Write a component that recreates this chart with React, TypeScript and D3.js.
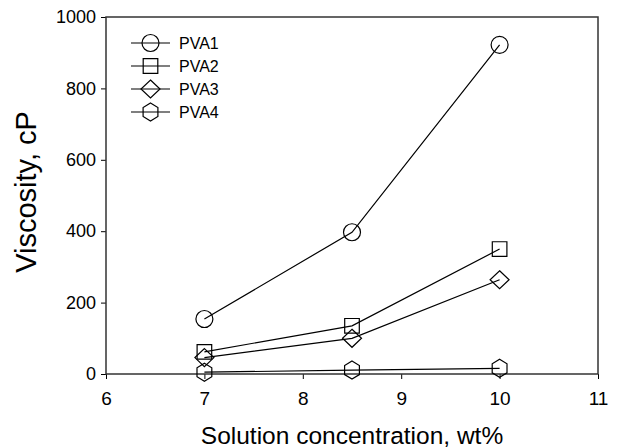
import { useEffect, useRef } from 'react'
import * as d3 from 'd3'

const concentrations = [7, 8.5, 10]
const seriesNames = ['PVA1', 'PVA2', 'PVA3', 'PVA4']
const pva1 = [154, 397, 922]
const pva2 = [62, 135, 350]
const pva3 = [46, 100, 264]
const pva4 = [5, 11, 16]
const xTicks = [6, 7, 8, 9, 10, 11]
const yTicks = [0, 200, 400, 600, 800, 1000]

const markerShapes = ['circle', 'square', 'diamond', 'hexagon']

function markerPath(shape: string, cx: number, cy: number) {
  if (shape === 'circle') {
    const r = 8.5
    return `M${cx - r},${cy}a${r},${r} 0 1,0 ${2 * r},0a${r},${r} 0 1,0 ${-2 * r},0Z`
  }
  if (shape === 'square') {
    const h = 7.3
    return `M${cx - h},${cy - h}H${cx + h}V${cy + h}H${cx - h}Z`
  }
  if (shape === 'diamond') {
    const w = 9.5
    const h = 9
    return `M${cx},${cy - h}L${cx + w},${cy}L${cx},${cy + h}L${cx - w},${cy}Z`
  }
  // hexagon, pointy top
  const r = 9
  const pts = d3.range(6).map((i) => {
    const a = (Math.PI / 3) * i - Math.PI / 2
    return [cx + r * Math.cos(a) * 0.95, cy + r * Math.sin(a)]
  })
  return 'M' + pts.map((p) => p.join(',')).join('L') + 'Z'
}

function ViscosityChart() {
  const svgRef = useRef<SVGSVGElement>(null)

  useEffect(() => {
    if (!svgRef.current) return
    const svg = d3.select(svgRef.current)
    svg.selectAll('*').remove()

    const margin = { top: 17, right: 19, bottom: 74, left: 106 }
    const width = 617 - margin.left - margin.right
    const height = 448 - margin.top - margin.bottom
    const font = 'Liberation Sans, Arial, sans-serif'

    const g = svg.append('g').attr('transform', `translate(${margin.left},${margin.top})`)

    const x = d3.scaleLinear().domain([6, 11]).range([0, width])
    const y = d3.scaleLinear().domain([0, 1000]).range([height, 0])

    // x axis
    const xAxis = g
      .append('g')
      .attr('transform', `translate(0,${height})`)
      .call(d3.axisBottom(x).tickValues(xTicks).tickSize(5).tickPadding(13).tickFormat(d3.format('d')))
    xAxis.select('.domain').remove()
    xAxis.selectAll('line').attr('stroke', '#000')
    xAxis.selectAll('text').style('font-size', '19px').style('font-family', font).attr('fill', '#000')

    // y axis
    const yAxis = g
      .append('g')
      .call(d3.axisLeft(y).tickValues(yTicks).tickSize(5).tickPadding(5).tickFormat(d3.format('d')))
    yAxis.select('.domain').remove()
    yAxis.selectAll('line').attr('stroke', '#000')
    yAxis.selectAll('text').style('font-size', '18px').style('font-family', font).attr('fill', '#000')

    // frame
    g.append('rect')
      .attr('width', width)
      .attr('height', height)
      .attr('fill', 'none')
      .attr('stroke', '#333')
      .attr('stroke-width', 1.5)

    const allSeries = [pva1, pva2, pva3, pva4]
    const line = d3
      .line<number>()
      .x((_, i) => x(concentrations[i]))
      .y((d) => y(d))

    allSeries.forEach((values, si) => {
      g.append('path')
        .attr('d', line(values))
        .attr('fill', 'none')
        .attr('stroke', '#000')
        .attr('stroke-width', 1.2)

      values.forEach((v, i) => {
        g.append('path')
          .attr('d', markerPath(markerShapes[si], x(concentrations[i]), y(v)))
          .attr('fill', 'none')
          .attr('stroke', '#000')
          .attr('stroke-width', 1.2)
      })
    })

    // legend
    const legend = g.append('g').attr('transform', 'translate(25, 26)')
    seriesNames.forEach((name, i) => {
      const row = legend.append('g').attr('transform', `translate(0, ${i * 23})`)
      row.append('line').attr('x1', 0).attr('x2', 39).attr('stroke', '#000').attr('stroke-width', 1.2)
      row
        .append('path')
        .attr('d', markerPath(markerShapes[i], 19.5, 0))
        .attr('fill', 'none')
        .attr('stroke', '#000')
        .attr('stroke-width', 1.2)
      row
        .append('text')
        .attr('x', 48)
        .attr('y', 6)
        .style('font-size', '16px')
        .style('font-family', font)
        .text(name)
    })

    // axis titles
    svg
      .append('text')
      .attr('x', margin.left + width / 2)
      .attr('y', 444)
      .attr('text-anchor', 'middle')
      .style('font-size', '24.5px')
      .style('font-family', font)
      .text('Solution concentration, wt%')

    svg
      .append('text')
      .attr('transform', `translate(36, 192) rotate(-90)`)
      .attr('text-anchor', 'middle')
      .style('font-size', '29px')
      .style('font-family', font)
      .text('Viscosity, cP')
  }, [])

  return (
    <svg
      ref={svgRef}
      width={617}
      height={448}
      style={{ display: 'block', position: 'absolute', left: 0, top: 0, background: '#fff' }}
    ></svg>
  )
}

export default function App() {
  return <ViscosityChart />
}
